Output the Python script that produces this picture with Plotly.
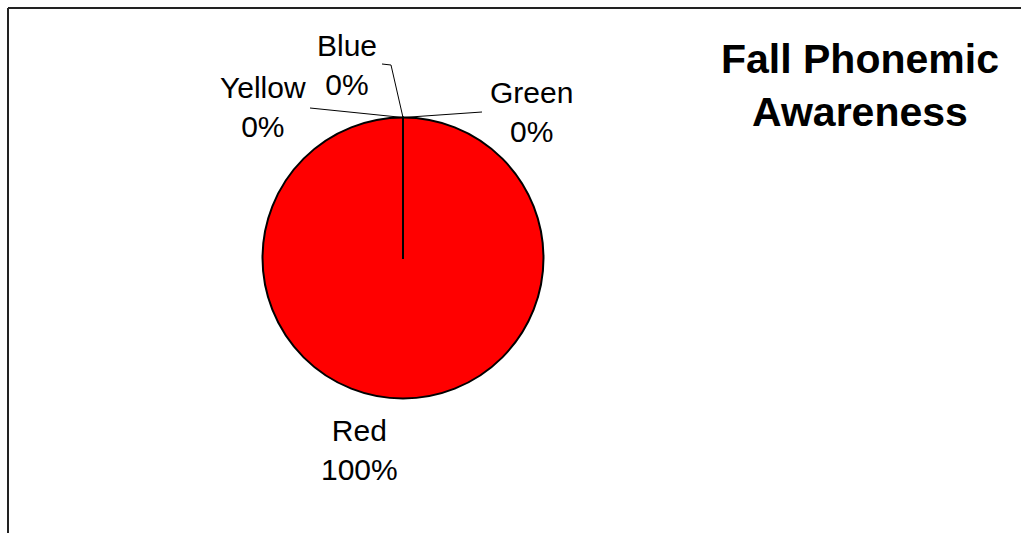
import plotly.graph_objects as go

W, H = 1021, 533

# ---- data ----
labels = ["Red", "Yellow", "Blue", "Green"]
values = [100, 0, 0, 0]
colors = ["#FF0000", "#FFFF00", "#0000FF", "#00FF00"]
title_lines = ["Fall Phonemic", "Awareness"]

total = sum(values)
pct = [round(v / total * 100) for v in values]
texts = [f"{l}<br>{p}%" for l, p in zip(labels, pct)]

def px(x):
    return x / W

def py(y):
    return 1 - y / H

# pie geometry (pixels)
cx, cy, r = 403, 258, 140.5

fig = go.Figure()
fig.add_trace(go.Pie(
    labels=labels,
    values=values,
    marker=dict(colors=colors, line=dict(color="black", width=2)),
    textinfo="none",
    hoverinfo="label+percent",
    sort=False,
    direction="clockwise",
    rotation=0,
    showlegend=False,
    domain=dict(x=[px(cx - r), px(cx + r)], y=[py(cy + r), py(cy - r)]),
))

# label positions (pixels): center x, middle y
label_pos = {
    "Red": (359, 450),
    "Yellow": (262.5, 107),
    "Blue": (347, 65),
    "Green": (531, 112),
}
annotations = []
for t, l in zip(texts, labels):
    x, y = label_pos[l]
    annotations.append(dict(
        x=px(x), y=py(y), xref="paper", yref="paper",
        text=t, showarrow=False, xanchor="center", yanchor="middle",
        font=dict(family="Liberation Sans, Arial, sans-serif", size=30, color="black"),
        align="center",
    ))
annotations.append(dict(
    x=px(860), y=py(85), xref="paper", yref="paper",
    text="<b>" + "<br>".join(title_lines) + "</b>", showarrow=False,
    xanchor="center", yanchor="middle", align="center",
    font=dict(family="Liberation Sans, Arial, sans-serif", size=41, color="black"),
))

top = (cx, cy - r)
shapes = []
def seg(p0, p1, color="black", width=1):
    shapes.append(dict(type="line", xref="paper", yref="paper",
                       x0=px(p0[0]), y0=py(p0[1]), x1=px(p1[0]), y1=py(p1[1]),
                       line=dict(color=color, width=width)))

# radial boundary line of the full slice
seg((cx, cy), top, width=2)
# leader lines
seg((310, 108), top)
seg((482, 112), top)
seg((391, 65), top)
seg((382, 64), (391, 65))
# chart frame
seg((8, H + 5), (8, 8), color="#222222", width=2)
seg((8, 8), (W + 5, 8), color="#222222", width=2)

fig.update_layout(
    width=W, height=H,
    margin=dict(l=0, r=0, t=0, b=0),
    paper_bgcolor="white", plot_bgcolor="white",
    annotations=annotations, shapes=shapes,
    showlegend=False,
)
fig.write_html("out.html")
